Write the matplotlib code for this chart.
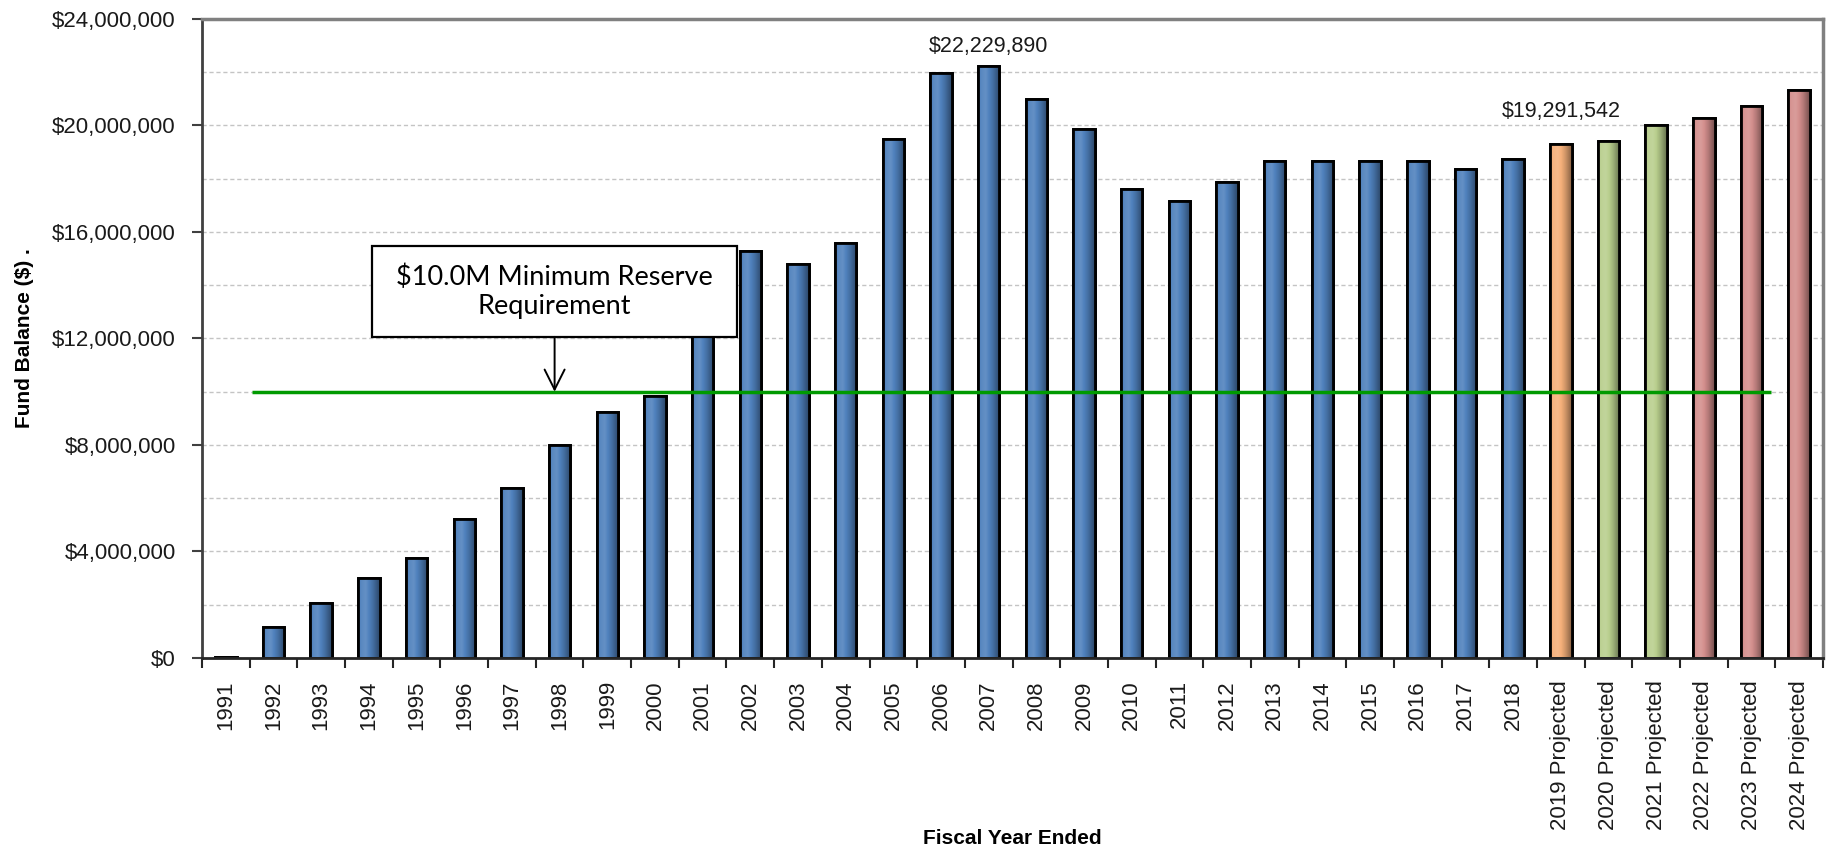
import numpy as np
import matplotlib
matplotlib.use("Agg")
import matplotlib.pyplot as plt
import matplotlib.colors as mcolors
from matplotlib.patches import Rectangle
from matplotlib.ticker import FuncFormatter, MultipleLocator, NullFormatter

plt.rcParams["font.family"] = ["Liberation Sans", "DejaVu Sans"]

# fiscal year-end fund balances
years = [str(y) for y in range(1991, 2019)] + [f"{y} Projected" for y in range(2019, 2025)]
balance = [
    40_000, 1_180_000, 2_050_000, 3_020_000, 3_770_000, 5_220_000, 6_380_000,
    8_000_000, 9_250_000, 9_850_000, 12_600_000, 15_300_000, 14_790_000,
    15_570_000, 19_480_000, 21_960_000, 22_229_890, 20_980_000, 19_870_000,
    17_620_000, 17_180_000, 17_880_000, 18_670_000, 18_670_000, 18_670_000,
    18_670_000, 18_370_000, 18_730_000,
    19_291_542, 19_420_000, 20_020_000, 20_270_000, 20_730_000, 21_320_000,
]
group = ["actual"] * 28 + ["proj1", "proj2", "proj2", "proj3", "proj3", "proj3"]
reserve_min = 10_000_000
callouts = {"2007": 22_229_890, "2019 Projected": 19_291_542}

palette = {"actual": "#4F81BD", "proj1": "#F6B07A", "proj2": "#B9CF8E", "proj3": "#D48F8D"}


def shade(base, n=80):
    """Horizontal gradient strip: light band left of centre, dark right edge."""
    c = np.array(mcolors.to_rgb(base))
    t = np.linspace(0, 1, n)
    k = np.interp(t, [0.0, 0.12, 0.35, 0.7, 1.0], [-0.15, 0.05, 0.12, -0.15, -0.45])
    rgb = np.where(k[:, None] > 0,
                   c + (1 - c) * k[:, None],
                   c * (1 + k[:, None]))
    return np.clip(rgb, 0, 1)[None, :, :]


fig = plt.figure(figsize=(18.3, 8.51), dpi=100)
ax = fig.add_axes([0.1104, 0.2268, 0.8858, 0.7509])

x = np.arange(len(years))
cols = [palette[g] for g in group]
bars = ax.bar(x, balance, width=0.45, color=cols, edgecolor="black", lw=2, zorder=2)
for rect, c in zip(bars, cols):
    x0, w, h = rect.get_x(), rect.get_width(), rect.get_height()
    im = ax.imshow(shade(c), extent=[x0, x0 + w, 0, h], aspect="auto",
                   interpolation="bilinear", zorder=2.1)
    im.set_clip_path(rect)
ax.bar(x, balance, width=0.45, fill=False, edgecolor="black", lw=2, zorder=2.2)

# minimum reserve line + callout
ax.hlines(reserve_min, 0.55, 32.4, color="#009A00", lw=2.5, zorder=3)
bx0, bx1, by0, by1 = 3.06, 10.73, 12.06e6, 15.47e6
ax.add_patch(Rectangle((bx0, by0), bx1 - bx0, by1 - by0, facecolor="white",
                       edgecolor="black", lw=1.6, zorder=4))
ax.text((bx0 + bx1) / 2, (by0 + by1) / 2, "$10.0M Minimum Reserve\nRequirement",
        ha="center", va="center", fontsize=19.5, family=["Lato", "DejaVu Sans"],
        linespacing=1.2, zorder=5)
ax.annotate("", xy=((bx0 + bx1) / 2, reserve_min), xytext=((bx0 + bx1) / 2, by0),
            arrowprops=dict(arrowstyle="->", color="black", lw=1.4,
                            mutation_scale=36, shrinkA=0, shrinkB=0), zorder=5)

# value labels
for lab, val in callouts.items():
    i = years.index(lab)
    off = 10 if lab == "2007" else 20
    ax.annotate(f"${val:,.0f}", (x[i], val), xytext=(0, off), textcoords="offset points",
                ha="center", va="baseline", fontsize=15.5, color="#1a1a1a")

# axes
ax.set_xlim(-0.5, len(years) - 0.5)
ax.set_ylim(0, 24_000_000)
ax.yaxis.set_major_locator(MultipleLocator(4_000_000))
ax.yaxis.set_minor_locator(MultipleLocator(2_000_000))
ax.yaxis.set_major_formatter(FuncFormatter(lambda v, _: f"${v:,.0f}"))
ax.grid(axis="y", which="both", color="#C4C4C4", lw=1, ls=(0, (3, 2)), zorder=0)
ax.set_axisbelow(True)
ax.tick_params(axis="y", which="major", length=7, width=1.5, pad=12, labelsize=16,
               labelcolor="#1a1a1a", color="#404040")
ax.tick_params(axis="y", which="minor", length=0)

ax.set_xticks(np.arange(len(years) + 1) - 0.5)
ax.xaxis.set_major_formatter(NullFormatter())
ax.set_xticks(x, years, minor=True)
ax.tick_params(axis="x", which="major", length=7, width=1.5, color="#262626")
ax.tick_params(axis="x", which="minor", length=0, pad=16, labelsize=16,
               labelrotation=90, labelcolor="#1a1a1a")

for s, c, w in [("left", "#404040", 2), ("bottom", "#262626", 2),
                ("top", "#808080", 2.5), ("right", "#808080", 2.5)]:
    ax.spines[s].set_color(c)
    ax.spines[s].set_linewidth(w)
    ax.spines[s].set_zorder(6)

fig.text(25 / 1830, 1 - 338 / 851, "Fund Balance ($) .", rotation=90, ha="center",
         va="center", fontsize=15, fontweight="bold")
fig.text(1012 / 1830, 1 - 839 / 851, "Fiscal Year Ended", ha="center", va="center",
         fontsize=15, fontweight="bold")

fig.savefig("out.png", dpi=100)
